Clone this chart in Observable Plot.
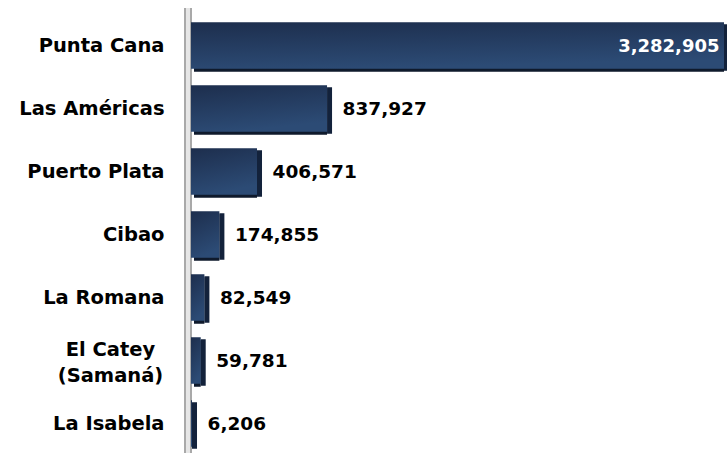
<!DOCTYPE html>
<html><head><meta charset="utf-8">
<script src="https://cdn.jsdelivr.net/npm/d3@7"></script>
<script src="https://cdn.jsdelivr.net/npm/@observablehq/plot@0.6"></script>
<style>
body{margin:0;background:#fff;font-family:"DejaVu Sans",sans-serif;}
#chart svg{display:block;}
</style></head>
<body><div id="chart"></div>
<script>
const airports = ["Punta Cana","Las Américas","Puerto Plata","Cibao","La Romana","El Catey\n(Samaná)","La Isabela"];
const passengers = [3282905, 837927, 406571, 174855, 82549, 59781, 6206];
const valueLabels = ["3,282,905","837,927","406,571","174,855","82,549","59,781","6,206"];

const data = airports.map((a, i) => ({airport: a, value: passengers[i], label: valueLabels[i], inside: i === 0}));
const inset = {insetTop: 8.25, insetBottom: 8.25};

const plot = Plot.plot({
  width: 727,
  height: 453,
  marginLeft: 191,
  marginRight: 3,
  marginTop: 8,
  marginBottom: 0,
  style: {fontFamily: "'DejaVu Sans', sans-serif", background: "#fff"},
  x: {domain: [0, 3282905], axis: null},
  y: {domain: airports, axis: null, padding: 0, range: [11.75, 456.25]},
  marks: [
    Plot.ruleX([0], {dx: -3.5, stroke: "#a9a9a9", strokeWidth: 8}),
    Plot.ruleX([0], {dx: -3.5, stroke: "#e6e6e6", strokeWidth: 4}),
    Plot.barX(data, {y: "airport", x: "value", fill: "#0f1a2c", dy: 3, insetLeft: 3, ...inset}),
    Plot.barX(data, {y: "airport", x1: "value", x2: "value", fill: "#13223b", insetRight: -5, dy: 2, ...inset}),
    Plot.barX(data, {y: "airport", x: "value", fill: "url(#barGrad)", ...inset}),
    Plot.text(data.filter(d => !d.inside), {y: "airport", x: "value", text: "label", dx: 15, textAnchor: "start", fontSize: 18.5, fontWeight: 700, fill: "#000"}),
    Plot.text(data.filter(d => d.inside), {y: "airport", x: "value", text: "label", dx: -5, textAnchor: "end", fontSize: 18, fontWeight: 700, fill: "#fff"}),
    Plot.text(data.filter(d => !d.airport.includes("\n")), {y: "airport", frameAnchor: "left", text: "airport", dx: -27, textAnchor: "end", fontSize: 19.5, fontWeight: 700, fill: "#000"}),
    Plot.text(data.filter(d => d.airport.includes("\n")), {y: "airport", frameAnchor: "left", text: "airport", dx: -81, textAnchor: "middle", fontSize: 19.5, fontWeight: 700, fill: "#000", lineHeight: 1.3})
  ]
});

const ns = "http://www.w3.org/2000/svg";
const defs = document.createElementNS(ns, "defs");
const grad = document.createElementNS(ns, "linearGradient");
grad.setAttribute("id", "barGrad");
grad.setAttribute("x1", "0"); grad.setAttribute("y1", "0");
grad.setAttribute("x2", "0.3"); grad.setAttribute("y2", "1");
[["0%", "#1d2e4d"], ["100%", "#2c4b75"]].forEach(([o, c]) => {
  const s = document.createElementNS(ns, "stop");
  s.setAttribute("offset", o); s.setAttribute("stop-color", c);
  grad.appendChild(s);
});
defs.appendChild(grad);
plot.insertBefore(defs, plot.firstChild);
document.getElementById("chart").appendChild(plot);
</script>
</body></html>
